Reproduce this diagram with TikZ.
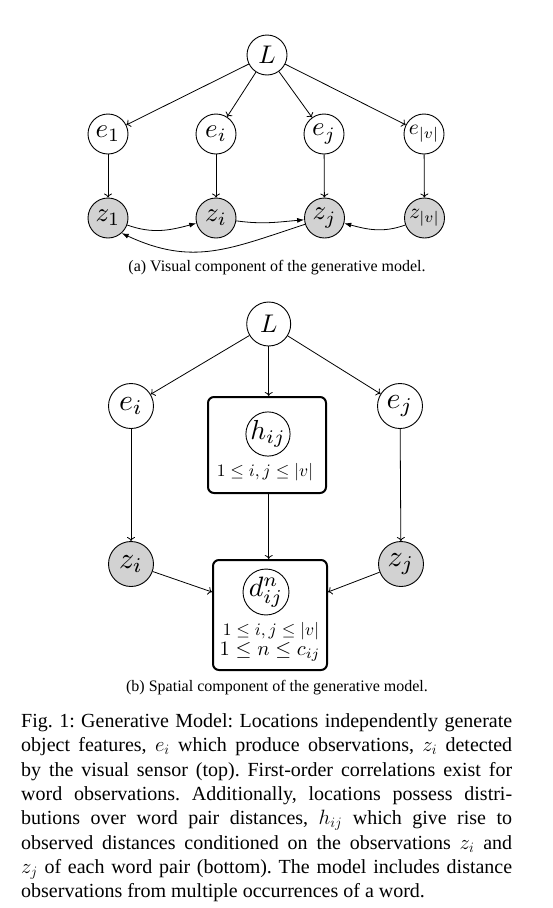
\documentclass[tikz,border=0pt]{standalone}
\usepackage{fontspec}
\newfontfamily\capfont{Liberation Serif}
\usetikzlibrary{arrows.meta,calc}
\newcommand\lbl[2]{\scalebox{#1}{$#2$}}
\tikzset{
  lat/.style={circle,draw,line width=0.9pt,minimum size=40pt,inner sep=0pt,fill=white,font=\fontsize{10}{12}\selectfont},
  obs/.style={lat,fill=gray!35},
  edge/.style={-{To[length=4pt,width=8pt]},line width=0.8pt},
  curved/.style={-{Latex[length=7pt,width=5pt]},line width=0.8pt},
  platebox/.style={draw,line width=2pt,rounded corners=6pt,inner sep=0pt},
  rangetext/.style={font=\fontsize{10}{12}\selectfont,inner sep=0pt},
  subcap/.style={font=\capfont\fontsize{16}{19}\selectfont,inner sep=0pt}
}
\begin{document}
\begin{tikzpicture}[x=1pt,y=1pt]
\useasboundingbox (0,0) rectangle (552,-908);
% ---------- (a) visual component ----------
\node[lat] (L1) at (267,-55) {\lbl{2.55}{L}};
\node[lat] (e1) at (108,-134) {\lbl{2.7}{e_1}};
\node[lat] (ei) at (216,-134) {\lbl{2.7}{e_i}};
\node[lat] (ej) at (324,-134) {\lbl{2.7}{e_j}};
\node[lat] (ev) at (424,-134) {\lbl{2.15}{e_{|v|}}};
\node[obs] (z1) at (108,-218) {\lbl{2.7}{z_1}};
\node[obs] (zi) at (216,-218) {\lbl{2.7}{z_i}};
\node[obs] (zj) at (324.5,-218) {\lbl{2.7}{z_j}};
\node[obs] (zv) at (424.5,-218) {\lbl{2.15}{z_{|v|}}};
\draw[edge] (L1) -- (e1);
\draw[edge] (L1) -- (ei);
\draw[edge] (L1) -- (ej);
\draw[edge] (L1) -- (ev);
\draw[edge] (e1) -- (z1);
\draw[edge] (ei) -- (zi);
\draw[edge] (ej) -- (zj);
\draw[edge] (ev) -- (zv);
\draw[curved] (z1) to[out=-20,in=195] (zi);
\draw[curved] (zi) to[out=-8,in=185] (zj);
\draw[curved] (zv) to[out=200,in=-15] (zj);
\draw[curved] (zj) to[out=198,in=-25,looseness=1.1] (z1.-48);
\node[subcap] (capa) at (277,-268) {(a) Visual component of the generative model.};
% ---------- (b) spatial component ----------
\node[lat,minimum size=44pt] (L2) at (268.7,-324) {\lbl{2.55}{L}};
\node[lat,minimum size=45pt] (eib) at (131,-406) {\lbl{3.0}{e_i}};
\node[lat,minimum size=45pt] (ejb) at (400,-406) {\lbl{3.0}{e_j}};
\node[platebox,minimum width=118pt,minimum height=96pt] (hbox) at (267,-445) {};
\node[lat,minimum size=44pt] (hc) at (268,-434) {\lbl{2.75}{h_{ij}}};
\node[rangetext] (ht) at (265,-472) {\lbl{1.75}{1\leq i,j\leq |v|}};
\node[obs,minimum size=45pt] (zib) at (131,-564) {\lbl{3.0}{z_i}};
\node[obs,minimum size=45pt] (zjb) at (401,-564) {\lbl{3.0}{z_j}};
\node[platebox,minimum width=114pt,minimum height=110pt] (dbox) at (270,-615) {};
\node[lat,minimum size=45pt] (dc) at (266,-592) {\lbl{2.8}{d^n_{ij}}};
\node[rangetext] (dt1) at (271,-631) {\lbl{1.75}{1\leq i,j\leq |v|}};
\node[rangetext] (dt2) at (270,-652) {\lbl{2.05}{1\leq n\leq c_{ij}}};
\draw[edge] (L2) -- (eib);
\draw[edge] (L2) -- (ejb);
\draw[edge] (L2) -- (L2 |- hbox.north);
\draw[edge] (eib) -- (zib);
\draw[edge] (ejb) -- (zjb);
\draw[edge] (hbox.south -| L2) -- (L2 |- dbox.north);
\draw[edge] (zib) -- (dbox.west |- dc);
\draw[edge] (zjb) -- (dbox.east |- dc);
\node[subcap] (capb) at (277,-688) {(b) Spatial component of the generative model.};
% ---------- figure caption ----------
\node[anchor=north west,inner sep=0pt,text width=491pt,align=justify,
      font=\capfont\fontsize{20}{24.3}\selectfont\frenchspacing] (cap) at (21,-713.5)
{Fig. 1: Generative Model: Locations independently generate\linebreak
object features, $e_i$ which produce observations, $z_i$ detected\linebreak
by the visual sensor (top). First-order correlations exist for\linebreak
word observations. Additionally, locations possess distri-\linebreak
butions over word pair distances, $h_{ij}$ which give rise to\linebreak
observed distances conditioned on the observations $z_i$ and\linebreak
$z_j$ of each word pair (bottom). The model includes distance\linebreak
observations from multiple occurrences of a word.};
\end{tikzpicture}
\end{document}
